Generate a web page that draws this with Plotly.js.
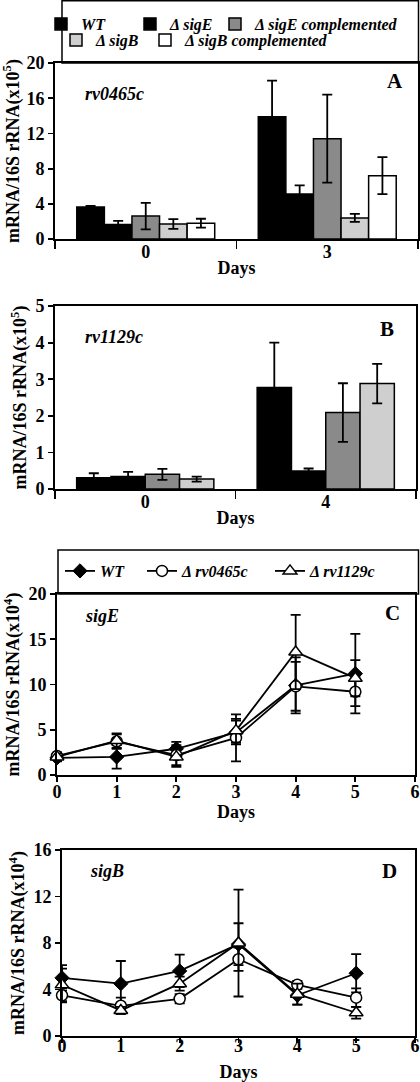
<!DOCTYPE html>
<html><head><meta charset="utf-8">
<script src="https://cdn.plot.ly/plotly-3.0.1.min.js"></script>
<style>html,body{margin:0;padding:0;background:#fff;}#chart{width:420px;height:1082px;}</style>
</head><body><div id="chart"></div>
<script>
// ---------- Panel A: rv0465c (mRNA/16S rRNA x10^5) ----------
const daysA = ['0', '3'];
const aWT = [3.65, 13.9];
const aWTErr = [0.1, 4.1];
const aSigE = [1.65, 5.1];
const aSigEErr = [0.4, 1.0];
const aSigEComp = [2.6, 11.4];
const aSigECompErr = [1.5, 5.0];
const aSigB = [1.7, 2.4];
const aSigBErr = [0.55, 0.45];
const aSigBComp = [1.8, 7.2];
const aSigBCompErr = [0.5, 2.1];

// ---------- Panel B: rv1129c (mRNA/16S rRNA x10^5) ----------
const daysB = ['0', '4'];
const bWT = [0.31, 2.77];
const bWTErr = [0.12, 1.23];
const bSigE = [0.34, 0.49];
const bSigEErr = [0.13, 0.07];
const bSigEComp = [0.40, 2.09];
const bSigECompErr = [0.15, 0.8];
const bSigB = [0.27, 2.88];
const bSigBErr = [0.07, 0.54];

// ---------- Panel C: sigE (x10^4) ----------
const daysCD = [0, 1, 2, 3, 4, 5];
const cWT = [1.9, 2.0, 2.9, 4.7, 9.9, 11.2];
const cWTErr = [0.4, 1.3, 0.75, 1.3, 3.1, 4.4];
const cRv0465 = [2.1, 3.7, 2.2, 4.1, 9.8, 9.2];
const cRv0465Err = [0.4, 0.8, 1.1, 2.6, 2.7, 1.6];
const cRv1129 = [2.0, 3.8, 2.0, 4.9, 13.6, 10.7];
const cRv1129Err = [0.4, 0.8, 1.1, 1.3, 4.1, 2.0];

// ---------- Panel D: sigB (x10^4) ----------
const dWT = [5.0, 4.5, 5.6, 7.9, 3.5, 5.4];
const dWTErr = [1.1, 1.95, 1.4, 1.8, 0.8, 1.65];
const dRv0465 = [3.5, 2.6, 3.2, 6.6, 4.4, 3.3];
const dRv0465Err = [0.6, 0.7, 0.4, 1.0, 0.35, 0.8];
const dRv1129 = [4.4, 2.2, 4.5, 8.0, 3.6, 2.0];
const dRv1129Err = [1.4, 0.3, 0.6, 4.6, 0.9, 0.5];

// ---------- labels ----------
const barNames = ['WT', 'Δ sigE', 'Δ sigE complemented', 'Δ sigB', 'Δ sigB complemented'];
const lineNames = ['WT', 'Δ rv0465c', 'Δ rv1129c'];
const barColors = ['#000000', '#000000', '#8a8a8a', '#cfcfcf', '#ffffff'];

const W = 420, H = 1082;
const px = v => v / W;
const py = v => 1 - v / H;
const FONT = 'Liberation Serif, Times New Roman, serif';

function err(arr) {
  return {type: 'data', array: arr, visible: true, color: '#000', thickness: 1.8, width: 5};
}
function bar(x, y, e, i, xa, ya, legend, lw, show) {
  return {
    type: 'bar', x: x, y: y, name: barNames[i], xaxis: xa, yaxis: ya,
    marker: {color: barColors[i], line: {color: '#000', width: 1.5}},
    error_y: err(e), legend: legend, legendwidth: lw, showlegend: show,
    hoverinfo: 'y'
  };
}
const markers = [
  {symbol: 'diamond', size: 11, color: '#000', line: {color: '#000', width: 1}},
  {symbol: 'circle', size: 11, color: '#fff', line: {color: '#000', width: 1.5}},
  {symbol: 'triangle-up', size: 12, color: '#fff', line: {color: '#000', width: 1.5}}
];
function line(y, e, i, xa, ya, show, lw) {
  return {
    type: 'scatter', mode: 'lines+markers', x: daysCD, y: y, name: lineNames[i],
    xaxis: xa, yaxis: ya, line: {color: '#000', width: 1.8}, marker: markers[i],
    error_y: err(e), cliponaxis: false, legend: 'legend2', legendwidth: lw, showlegend: show
  };
}

const data = [
  bar(daysA, aWT, aWTErr, 0, 'x', 'y', 'legend', 44, true),
  bar(daysA, aSigE, aSigEErr, 1, 'x', 'y', 'legend', 40, true),
  bar(daysA, aSigEComp, aSigECompErr, 2, 'x', 'y', 'legend', 160, true),
  bar(daysA, aSigB, aSigBErr, 3, 'x', 'y', 'legend3', 44, true),
  bar(daysA, aSigBComp, aSigBCompErr, 4, 'x', 'y', 'legend3', 160, true),
  bar(daysB, bWT, bWTErr, 0, 'x2', 'y2', 'legend', 44, false),
  bar(daysB, bSigE, bSigEErr, 1, 'x2', 'y2', 'legend', 44, false),
  bar(daysB, bSigEComp, bSigECompErr, 2, 'x2', 'y2', 'legend', 44, false),
  bar(daysB, bSigB, bSigBErr, 3, 'x2', 'y2', 'legend', 44, false),
  line(cWT, cWTErr, 0, 'x3', 'y3', true, 37),
  line(cRv0465, cRv0465Err, 1, 'x3', 'y3', true, 83),
  line(cRv1129, cRv1129Err, 2, 'x3', 'y3', true, 90),
  line(dWT, dWTErr, 0, 'x4', 'y4', false, 37),
  line(dRv0465, dRv0465Err, 1, 'x4', 'y4', false, 83),
  line(dRv1129, dRv1129Err, 2, 'x4', 'y4', false, 90)
];

const tickFont = {family: FONT, size: 18, color: '#000', weight: 'bold'};
function xAxis(dom, ya, extra) {
  return Object.assign({
    domain: dom, anchor: ya, showline: true, linewidth: 1.8, linecolor: '#000', mirror: true,
    ticks: 'outside', ticklen: 5, tickwidth: 1.8, tickcolor: '#000', showgrid: false, zeroline: false,
    tickfont: tickFont, fixedrange: true
  }, extra);
}
function yAxis(dom, xa, extra) {
  return Object.assign({
    domain: dom, anchor: xa, showline: true, linewidth: 1.8, linecolor: '#000', mirror: true,
    ticks: 'outside', ticklen: 5, tickwidth: 1.8, tickcolor: '#000', showgrid: false, zeroline: false,
    tickfont: tickFont, fixedrange: true
  }, extra);
}
const titleFont = {family: FONT, size: 18, color: '#000', weight: 'bold'};
const legFont = {family: FONT, size: 16, color: '#000', weight: 'bold', style: 'italic'};
const legBase = {orientation: 'h', xanchor: 'left', yanchor: 'middle', bgcolor: 'rgba(0,0,0,0)',
  borderwidth: 0, font: legFont, itemwidth: 30, itemclick: false, itemdoubleclick: false};

const layout = {
  width: W, height: H, margin: {l: 0, r: 0, t: 0, b: 0},
  paper_bgcolor: '#fff', plot_bgcolor: '#fff',
  font: {family: FONT, size: 18, color: '#000'},
  barmode: 'group', bargap: 0.24, bargroupgap: 0, showlegend: true,
  xaxis: xAxis([px(55), px(418)], 'y', {type: 'category', tickson: 'boundaries', ticklen: 8,
    ticklabelstandoff: -4, title: {text: 'Days', font: titleFont, standoff: 0}}),
  yaxis: yAxis([py(239), py(63)], 'x', {range: [0, 20], tickvals: [0, 4, 8, 12, 16, 20],
    title: {text: 'mRNA/16S rRNA(x10<sup>5</sup>)', font: titleFont, standoff: 4}}),
  xaxis2: xAxis([px(55), px(416)], 'y2', {type: 'category', tickson: 'boundaries', ticklen: 8,
    ticklabelstandoff: -4, title: {text: 'Days', font: titleFont, standoff: 0}}),
  yaxis2: yAxis([py(489), py(306)], 'x2', {range: [0, 5], tickvals: [0, 1, 2, 3, 4, 5],
    title: {text: 'mRNA/16S rRNA(x10<sup>5</sup>)', font: titleFont, standoff: 4}}),
  xaxis3: xAxis([px(57), px(415)], 'y3', {range: [0, 6], tickvals: [0, 1, 2, 3, 4, 5, 6],
    ticklabelstandoff: -5, title: {text: 'Days', font: titleFont, standoff: 0}}),
  yaxis3: yAxis([py(775), py(594)], 'x3', {range: [0, 20], tickvals: [0, 5, 10, 15, 20],
    title: {text: 'mRNA/16S rRNA(x10<sup>4</sup>)', font: titleFont, standoff: 4}}),
  xaxis4: xAxis([px(62), px(415)], 'y4', {range: [0, 6], tickvals: [0, 1, 2, 3, 4, 5, 6],
    ticklabelstandoff: -12, title: {text: 'Days', font: titleFont, standoff: 12}}),
  yaxis4: yAxis([py(1036), py(850)], 'x4', {range: [0, 16], tickvals: [0, 4, 8, 12, 16],
    title: {text: 'mRNA/16S rRNA(x10<sup>4</sup>)', font: titleFont, standoff: 4}}),
  legend: Object.assign({}, legBase, {x: px(56), y: py(24)}),
  legend3: Object.assign({}, legBase, {x: px(56), y: py(40)}),
  legend2: Object.assign({}, legBase, {x: px(60), y: py(571)}),
  shapes: [
    {type: 'rect', xref: 'paper', yref: 'paper', x0: px(62), x1: px(418.5), y0: py(63), y1: py(0.8),
      line: {color: '#000', width: 1.5}, fillcolor: 'rgba(0,0,0,0)', layer: 'below'},
    {type: 'rect', xref: 'paper', yref: 'paper', x0: px(58), x1: px(418.5), y0: py(594), y1: py(550),
      line: {color: '#000', width: 1.5}, fillcolor: 'rgba(0,0,0,0)', layer: 'below'}
  ],
  annotations: [
    {text: 'rv0465c', xref: 'paper', yref: 'paper', x: px(83), y: py(94), xanchor: 'left', yanchor: 'middle',
      showarrow: false, font: {family: FONT, size: 18, weight: 'bold', style: 'italic', color: '#000'}},
    {text: 'A', xref: 'paper', yref: 'paper', x: px(395), y: py(81), xanchor: 'center', yanchor: 'middle',
      showarrow: false, font: {family: FONT, size: 21, weight: 'bold', color: '#000'}},
    {text: 'rv1129c', xref: 'paper', yref: 'paper', x: px(83), y: py(337), xanchor: 'left', yanchor: 'middle',
      showarrow: false, font: {family: FONT, size: 18, weight: 'bold', style: 'italic', color: '#000'}},
    {text: 'B', xref: 'paper', yref: 'paper', x: px(387), y: py(329), xanchor: 'center', yanchor: 'middle',
      showarrow: false, font: {family: FONT, size: 21, weight: 'bold', color: '#000'}},
    {text: 'sigE', xref: 'paper', yref: 'paper', x: px(83), y: py(616), xanchor: 'left', yanchor: 'middle',
      showarrow: false, font: {family: FONT, size: 18, weight: 'bold', style: 'italic', color: '#000'}},
    {text: 'C', xref: 'paper', yref: 'paper', x: px(392), y: py(613), xanchor: 'center', yanchor: 'middle',
      showarrow: false, font: {family: FONT, size: 21, weight: 'bold', color: '#000'}},
    {text: 'sigB', xref: 'paper', yref: 'paper', x: px(88), y: py(871), xanchor: 'left', yanchor: 'middle',
      showarrow: false, font: {family: FONT, size: 18, weight: 'bold', style: 'italic', color: '#000'}},
    {text: 'D', xref: 'paper', yref: 'paper', x: px(389), y: py(871), xanchor: 'center', yanchor: 'middle',
      showarrow: false, font: {family: FONT, size: 21, weight: 'bold', color: '#000'}}
  ]
};

Plotly.newPlot('chart', data, layout, {staticPlot: true, displayModeBar: false});
</script>
</body></html>
